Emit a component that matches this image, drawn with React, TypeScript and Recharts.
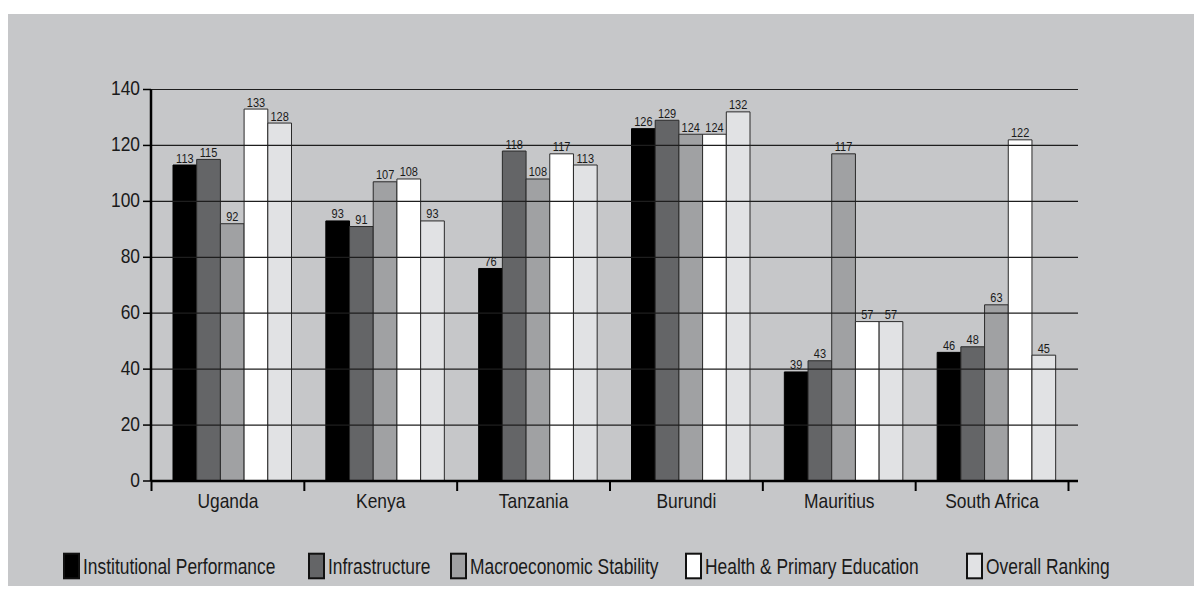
import React from 'react';
import { BarChart, Bar, XAxis, YAxis, ReferenceLine, LabelList } from 'recharts';

// Country groups along the x axis
const CATEGORIES = ['Uganda', 'Kenya', 'Tanzania', 'Burundi', 'Mauritius', 'South Africa'];

// Ranking per pillar, one value per country (same order as CATEGORIES)
const INSTITUTIONAL = [113, 93, 76, 126, 39, 46];
const INFRASTRUCTURE = [115, 91, 118, 129, 43, 48];
const MACRO_STABILITY = [92, 107, 108, 124, 117, 63];
const HEALTH_EDUCATION = [133, 108, 117, 124, 57, 122];
const OVERALL = [128, 93, 113, 132, 57, 45];

const Y_TICKS = [0, 20, 40, 60, 80, 100, 120, 140];

const SERIES = [
  { key: 'inst', name: 'Institutional Performance', values: INSTITUTIONAL, fill: '#000000' },
  { key: 'infra', name: 'Infrastructure', values: INFRASTRUCTURE, fill: '#646567' },
  { key: 'macro', name: 'Macroeconomic Stability', values: MACRO_STABILITY, fill: '#a0a1a3' },
  { key: 'health', name: 'Health & Primary Education', values: HEALTH_EDUCATION, fill: '#ffffff' },
  { key: 'overall', name: 'Overall Ranking', values: OVERALL, fill: '#e1e2e4' },
];

const rows = CATEGORIES.map((country, i) => {
  const row: Record<string, string | number> = { country };
  SERIES.forEach((s) => {
    row[s.key] = s.values[i];
  });
  return row;
});

// Layout
const W = 1194;
const H = 572;
const PANEL_BG = '#c6c7c9';
const TEXT = '#1a1a1a';
const FONT = '"Liberation Sans", Arial, sans-serif';
const MARGIN = { top: 75.5, right: 124, bottom: 75, left: 83 };
const Y_AXIS_W = 60;
const X_AXIS_H = 30;
const PLOT_LEFT = MARGIN.left + Y_AXIS_W;
const PLOT_RIGHT = W - MARGIN.right;
const PLOT_BOTTOM = H - MARGIN.bottom - X_AXIS_H;
const X_PAD = 5;
const BAND = (PLOT_RIGHT - PLOT_LEFT - 2 * X_PAD) / CATEGORIES.length;
const GROUP_SHIFT = -4.5;

const StretchText = ({ x, y, anchor, size, sy, children }: any) => (
  <g transform={`translate(${x},${y}) scale(1,${sy})`}>
    <text x={0} y={0} textAnchor={anchor} fontSize={size} fontFamily={FONT} fill={TEXT}>
      {children}
    </text>
  </g>
);

const XTick = (props: any) => {
  const { x, payload, index } = props;
  const cx = x + GROUP_SHIFT;
  const left = cx - BAND / 2;
  const right = cx + BAND / 2;
  return (
    <g>
      <line x1={left} x2={left} y1={PLOT_BOTTOM} y2={PLOT_BOTTOM + 10} stroke="#000" strokeWidth={2} />
      {index === CATEGORIES.length - 1 && (
        <line x1={right} x2={right} y1={PLOT_BOTTOM} y2={PLOT_BOTTOM + 10} stroke="#000" strokeWidth={2} />
      )}
      <StretchText x={cx} y={PLOT_BOTTOM + 27} anchor="middle" size={17.4} sy={1.18}>
        {payload.value}
      </StretchText>
    </g>
  );
};

const YTick = (props: any) => {
  const { x, y, payload } = props;
  return (
    <StretchText x={x} y={y + 5.5} anchor="end" size={17.4} sy={1.2}>
      {payload.value}
    </StretchText>
  );
};

const ValueLabel = (props: any) => {
  const { x, y, width, value } = props;
  return (
    <StretchText x={x + width / 2} y={y - 2.5} anchor="middle" size={11} sy={1.1}>
      {value}
    </StretchText>
  );
};

const LEGEND_TEXT_X = [83, 328, 470, 705, 986].map((v) => v - 8);

const LegendRow = () => (
  <svg
    width={W}
    height={H}
    style={{ position: 'absolute', left: 0, top: 0, pointerEvents: 'none' }}
  >
    {SERIES.map((s, i) => {
      const tx = LEGEND_TEXT_X[i];
      return (
        <g key={s.key}>
          <rect x={tx - 19} y={539.7} width={15} height={24.6} fill={s.fill} stroke="#111" strokeWidth={2} />
          <StretchText x={tx} y={560.3} anchor="start" size={17.4} sy={1.27}>
            {s.name}
          </StretchText>
        </g>
      );
    })}
  </svg>
);

export default function App() {
  return (
    <div style={{ marginTop: 6, width: W, height: H, background: PANEL_BG, position: 'relative' }}>
      <BarChart width={W} height={H} data={rows} margin={MARGIN} barGap={0} barSize={23.7}>
        <XAxis
          dataKey="country"
          height={X_AXIS_H}
          padding={{ left: X_PAD, right: X_PAD }}
          axisLine={{ stroke: '#000', strokeWidth: 2.5 }}
          tickLine={false}
          tick={<XTick />}
          interval={0}
        />
        <YAxis
          width={Y_AXIS_W}
          domain={[0, 140]}
          ticks={Y_TICKS}
          interval={0}
          tickSize={8}
          tickMargin={3}
          axisLine={{ stroke: '#000', strokeWidth: 2.5 }}
          tickLine={{ stroke: '#000', strokeWidth: 1.5 }}
          tick={<YTick />}
        />
        {SERIES.map((s) => (
          <Bar
            key={s.key}
            dataKey={s.key}
            name={s.name}
            fill={s.fill}
            stroke={s.fill === '#000000' ? '#000' : '#2a2a2a'}
            strokeWidth={1}
            isAnimationActive={false}
          >
            <LabelList dataKey={s.key} content={<ValueLabel />} />
          </Bar>
        ))}
        {Y_TICKS.filter((v) => v > 0).map((v) => (
          <ReferenceLine key={v} y={v} stroke="#1e1e1e" strokeWidth={1.2} />
        ))}
      </BarChart>
      <LegendRow />
    </div>
  );
}
